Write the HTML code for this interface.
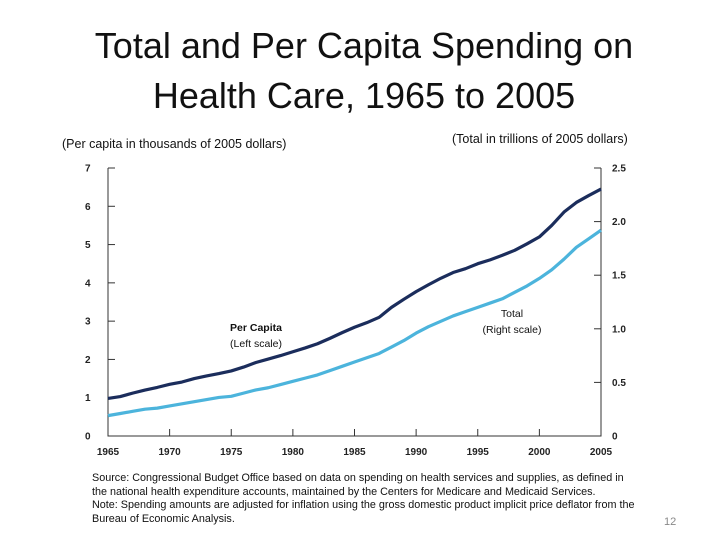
<!DOCTYPE html>
<html><head><meta charset="utf-8"><style>
body{margin:0;background:#fff;width:728px;height:546px;overflow:hidden;font-family:"Liberation Sans",sans-serif}
.t{position:absolute;left:0;width:728px;text-align:center;font-size:36px;color:#111;line-height:50px;top:21px}
.s{position:absolute;font-size:12.5px;color:#111}
.src{position:absolute;left:92px;top:472px;font-size:10.8px;line-height:13.6px;color:#111;white-space:nowrap}
</style></head><body>
<div class="t">Total and Per Capita Spending on<br>Health Care, 1965 to 2005</div>
<div class="s" style="left:62px;top:137px">(Per capita in thousands of 2005 dollars)</div>
<div class="s" style="left:452px;top:132px">(Total in trillions of 2005 dollars)</div>
<svg id="c" width="728" height="546" style="position:absolute;left:0;top:0"></svg>
<div class="src">Source: Congressional Budget Office based on data on spending on health services and supplies, as defined in<br>the national health expenditure accounts, maintained by the Centers for Medicare and Medicaid Services.<br>Note: Spending amounts are adjusted for inflation using the gross domestic product implicit price deflator from the<br>Bureau of Economic Analysis.</div>
<div class="s" style="left:664px;top:516px;font-size:11px;color:#888">12</div>
<script>
const years=[];for(let y=1965;y<=2005;y++)years.push(y);
const perCapita=[0.98,1.03,1.12,1.2,1.27,1.35,1.41,1.5,1.57,1.63,1.7,1.8,1.92,2.01,2.1,2.2,2.3,2.41,2.55,2.7,2.84,2.96,3.1,3.36,3.57,3.77,3.95,4.12,4.27,4.37,4.5,4.6,4.72,4.85,5.02,5.2,5.5,5.85,6.1,6.28,6.45];
const total=[0.19,0.21,0.23,0.25,0.26,0.28,0.30,0.32,0.34,0.36,0.37,0.40,0.43,0.45,0.48,0.51,0.54,0.57,0.61,0.65,0.69,0.73,0.77,0.83,0.89,0.96,1.02,1.07,1.12,1.16,1.2,1.24,1.28,1.34,1.4,1.47,1.55,1.65,1.76,1.84,1.92];
const leftTicks=[0,1,2,3,4,5,6,7];
const rightTicks=["0","0.5","1.0","1.5","2.0","2.5"];
const xTicks=[1965,1970,1975,1980,1985,1990,1995,2000,2005];
const L=108,R=601,T=168,B=436;
const x=v=>L+(v-1965)/40*(R-L);
const yl=v=>B-v/7*(B-T);
const yr=v=>B-v/2.5*(B-T);
const svg=document.getElementById('c');const NS='http://www.w3.org/2000/svg';
function mk(t,a,txt){const e=document.createElementNS(NS,t);for(const k in a)e.setAttribute(k,a[k]);if(txt!==undefined)e.textContent=txt;svg.appendChild(e);return e;}
const f='font-family:"Liberation Sans Narrow","Liberation Sans",sans-serif;font-size:10px;font-weight:bold;fill:#222';
let e=mk('path',{d:`M${L} ${T}V${B}H${R}V${T}`,fill:'none',stroke:'#333','stroke-width':1});

leftTicks.forEach(v=>{const yy=yl(v);
e=mk('line',{x1:L,x2:L+7,y1:yy,y2:yy,stroke:'#333'});
e=mk('text',{x:85,y:yy+3.5,style:f},String(v));});
rightTicks.forEach(s=>{const yy=yr(parseFloat(s));
e=mk('line',{x1:R-7,x2:R,y1:yy,y2:yy,stroke:'#333'});
e=mk('text',{x:612,y:yy+3.5,style:f},s);});
xTicks.forEach(v=>{const xx=x(v);
e=mk('line',{x1:xx,x2:xx,y1:B-7,y2:B,stroke:'#333'});
e=mk('text',{x:xx,y:455,style:f,'text-anchor':'middle'},String(v));});
e=mk('polyline',{points:years.map((y,i)=>x(y)+','+yr(total[i])).join(' '),fill:'none',stroke:'#4cb4dc','stroke-width':3.2,'stroke-linejoin':'round'});

e=mk('polyline',{points:years.map((y,i)=>x(y)+','+yl(perCapita[i])).join(' '),fill:'none',stroke:'#1b2d5c','stroke-width':3.2,'stroke-linejoin':'round'});

const lf='font-family:"Liberation Sans Narrow","Liberation Sans",sans-serif;font-size:10.5px;fill:#111';
e=mk('text',{x:256,y:331,style:lf,'text-anchor':'middle','font-weight':'bold'},'Per Capita');
e=mk('text',{x:256,y:347,style:lf,'text-anchor':'middle'},'(Left scale)');
e=mk('text',{x:512,y:317,style:lf,'text-anchor':'middle'},'Total');
e=mk('text',{x:512,y:333,style:lf,'text-anchor':'middle'},'(Right scale)');
</script>
</body></html>
